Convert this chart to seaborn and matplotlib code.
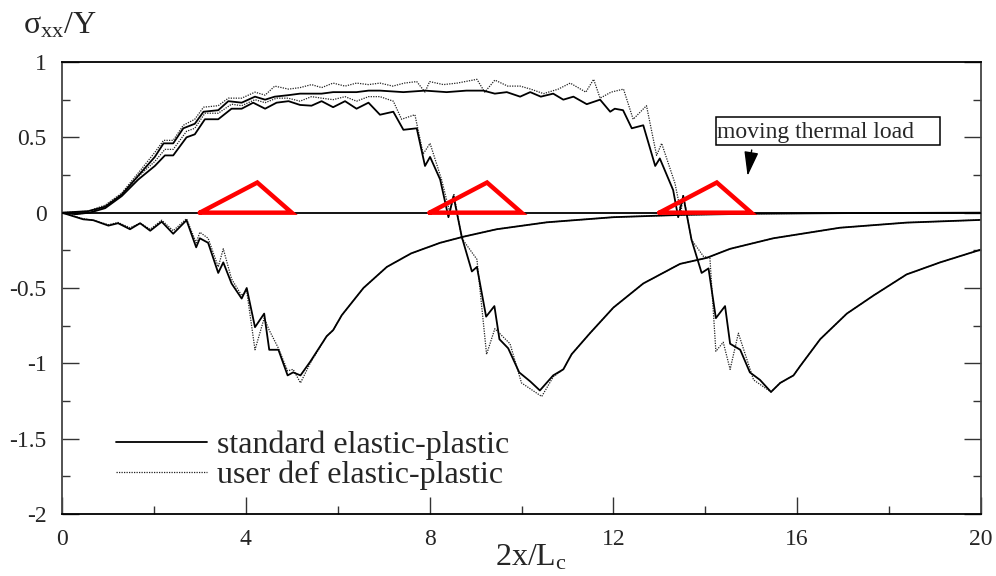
import numpy as np
import pandas as pd
import matplotlib
matplotlib.use("Agg")
import matplotlib.pyplot as plt
from matplotlib.patches import Rectangle
from matplotlib.lines import Line2D
from matplotlib.ticker import MultipleLocator
import seaborn as sns

# ---------------- data ----------------
# snapshot A: load around x = 3..5
a_std_x = [0, 0.46, 0.68, 1.01, 1.22, 1.48, 1.70, 1.92, 2.17, 2.42, 2.71, 2.92, 3.0, 3.18, 3.40, 3.51,
           3.69, 3.91, 4.02, 4.20, 4.40, 4.51, 4.71, 4.91, 5.03, 5.19, 5.40, 5.76, 5.90, 6.09, 6.56,
           7.07, 7.6, 8.23, 8.73, 9.46, 10.55, 12.0, 13.45, 15.0, 17.0, 20.0]
a_std_y = [0, -0.044, -0.05, -0.086, -0.07, -0.11, -0.07, -0.12, -0.06, -0.14, -0.05, -0.23, -0.17, -0.20,
           -0.40, -0.33, -0.47, -0.57, -0.50, -0.76, -0.67, -0.91, -0.91, -1.08, -1.06, -1.08, -0.99,
           -0.82, -0.78, -0.68, -0.50, -0.36, -0.27, -0.20, -0.16, -0.11, -0.064, -0.03, -0.015,
           -0.007, -0.003, 0.0]
a_usr_x = a_std_x
a_usr_y = [0, -0.04, -0.05, -0.08, -0.065, -0.10, -0.07, -0.11, -0.05, -0.12, -0.04, -0.20, -0.13, -0.17,
           -0.36, -0.24, -0.44, -0.55, -0.52, -0.91, -0.70, -0.78, -0.90, -1.05, -1.04, -1.13, -1.00,
           -0.82, -0.78, -0.68, -0.50, -0.36, -0.27, -0.20, -0.16, -0.11, -0.064, -0.03, -0.015,
           -0.007, -0.003, 0.0]

# snapshot B: load around x = 8..10
b_std_x = [0, 0.3, 0.6, 0.94, 1.3, 1.66, 2.02, 2.24, 2.42, 2.71, 2.89, 3.11, 3.40, 3.69, 3.91, 4.16,
           4.42, 4.67, 4.93, 5.18, 5.43, 5.65, 5.90, 6.16, 6.41, 6.67, 6.92, 7.21, 7.43, 7.72, 7.90,
           8.01, 8.23, 8.41, 8.52, 8.70, 8.92, 9.03, 9.23, 9.41, 9.52, 9.71, 9.95, 10.19, 10.40,
           10.69, 10.91, 11.09, 11.49, 12.0, 12.65, 13.45, 14.03, 14.54, 15.48, 16.93, 18.38, 20.0]
b_std_y = [0, -0.01, 0.0, 0.03, 0.11, 0.22, 0.31, 0.38, 0.38, 0.50, 0.52, 0.62, 0.62, 0.69, 0.69, 0.73,
           0.69, 0.73, 0.74, 0.715, 0.71, 0.74, 0.70, 0.74, 0.69, 0.73, 0.65, 0.67, 0.55, 0.56, 0.31,
           0.37, 0.22, -0.03, 0.11, -0.16, -0.39, -0.36, -0.69, -0.62, -0.84, -0.90, -1.06, -1.12,
           -1.18, -1.08, -1.04, -0.94, -0.80, -0.63, -0.47, -0.34, -0.30, -0.24, -0.17, -0.10,
           -0.066, -0.048]
b_usr_x = [0, 0.3, 0.6, 0.94, 1.3, 1.66, 2.02, 2.24, 2.42, 2.71, 2.89, 3.11, 3.40, 3.69, 3.91, 4.20,
           4.42, 4.67, 4.92, 5.18, 5.43, 5.65, 5.90, 6.16, 6.41, 6.67, 6.92, 7.21, 7.39, 7.68, 7.86,
           8.01, 8.26, 8.44, 8.53, 8.70, 9.03, 9.24, 9.42, 9.75, 10.0, 10.44, 10.69, 10.91, 11.09,
           11.49, 12.0, 12.65, 13.45, 14.03, 14.54, 15.48, 16.93, 18.38, 20.0]
b_usr_y = [0, -0.01, 0.0, 0.04, 0.12, 0.24, 0.34, 0.42, 0.42, 0.54, 0.56, 0.66, 0.66, 0.72, 0.71, 0.75,
           0.73, 0.76, 0.76, 0.74, 0.77, 0.76, 0.75, 0.77, 0.74, 0.77, 0.77, 0.74, 0.62, 0.65, 0.39,
           0.46, 0.22, 0.0, 0.12, -0.17, -0.31, -0.94, -0.77, -0.87, -1.13, -1.22, -1.09, -1.04,
           -0.94, -0.80, -0.63, -0.47, -0.34, -0.30, -0.24, -0.17, -0.10, -0.066, -0.048]

# snapshot C: load around x = 13..15
c_std_x = [0, 0.57, 0.94, 1.30, 1.73, 2.02, 2.21, 2.42, 2.64, 2.89, 3.08, 3.40, 3.62, 3.91, 4.20, 4.42,
           4.63, 4.93, 5.18, 5.43, 5.65, 5.90, 6.16, 6.41, 6.67, 6.92, 7.43, 7.9, 8.37, 8.8, 9.17,
           9.42, 9.68, 9.97, 10.19, 10.42, 10.69, 10.91, 11.13, 11.42, 11.71, 11.93, 12.03, 12.21,
           12.4, 12.65, 12.91, 13.01, 13.30, 13.41, 13.52, 13.70, 13.92, 14.07, 14.23, 14.43, 14.54,
           14.76, 14.97, 15.19, 15.43, 15.63, 15.92, 16.06, 16.50, 17.08, 17.66, 18.38, 19.11, 20.0]
c_std_y = [0, 0.01, 0.04, 0.12, 0.27, 0.37, 0.46, 0.46, 0.56, 0.59, 0.67, 0.68, 0.74, 0.73, 0.77, 0.75,
           0.77, 0.78, 0.79, 0.79, 0.79, 0.80, 0.80, 0.80, 0.81, 0.81, 0.80, 0.81, 0.80, 0.81, 0.81,
           0.79, 0.80, 0.77, 0.80, 0.77, 0.79, 0.75, 0.77, 0.72, 0.75, 0.67, 0.69, 0.68,
           0.56, 0.58, 0.31, 0.36, 0.15, -0.03, 0.11, -0.18, -0.40, -0.37, -0.70, -0.62, -0.87,
           -0.91, -1.06, -1.11, -1.19, -1.13, -1.08, -1.02, -0.84, -0.67, -0.55, -0.41, -0.33, -0.245]
c_usr_x = [0, 0.57, 0.94, 1.30, 1.73, 2.02, 2.21, 2.42, 2.64, 2.89, 3.08, 3.40, 3.62, 3.91, 4.20, 4.42,
           4.63, 4.93, 5.18, 5.43, 5.65, 5.90, 6.16, 6.41, 6.67, 6.92, 7.2, 7.45, 7.72, 7.9, 8.0,
           8.3, 8.6, 9.03, 9.2, 9.42, 9.7, 9.97, 10.2, 10.48, 10.8, 11.06, 11.4, 11.57, 11.71, 11.95,
           12.22, 12.43, 12.72, 12.94, 13.05, 13.34, 13.47, 13.52, 13.70, 13.96, 14.1, 14.23, 14.39,
           14.54, 14.72, 15.05, 15.43, 15.63, 15.92, 16.06, 16.50, 17.08, 17.66, 18.38, 19.11, 20.0]
c_usr_y = [0, 0.01, 0.05, 0.13, 0.29, 0.40, 0.48, 0.48, 0.58, 0.62, 0.70, 0.71, 0.76, 0.76, 0.80, 0.78,
           0.84, 0.82, 0.83, 0.85, 0.83, 0.86, 0.84, 0.86, 0.85, 0.86, 0.84, 0.86, 0.87, 0.80, 0.87,
           0.85, 0.86, 0.885, 0.80, 0.88, 0.84, 0.84, 0.82, 0.79, 0.82, 0.86, 0.80, 0.885, 0.76, 0.80,
           0.82, 0.62, 0.71, 0.38, 0.46, 0.195, 0.0, 0.12, -0.18, -0.29, -0.30, -0.92, -0.86,
           -1.04, -0.80, -1.11, -1.19, -1.13, -1.08, -1.02, -0.84, -0.67, -0.55, -0.41, -0.33, -0.245]

# moving thermal load (red triangles): start, apex, end of each load
load_x = [[3.0, 4.25, 5.0], [8.0, 9.25, 10.0], [13.0, 14.25, 15.0]]
load_y = [0.0, 0.2, 0.0]

legend_labels = ["standard elastic-plastic", "user def elastic-plastic"]
x_ticks = [0, 4, 8, 12, 16, 20]
y_ticks = [-2, -1.5, -1, -0.5, 0, 0.5, 1]
y_ticklabels = ["-2", "-1.5", "-1", "-0.5", "0", "0.5", "1"]

# ---------------- style ----------------
sns.set_style("white")
plt.rcParams["font.family"] = ["Liberation Serif", "DejaVu Serif"]
plt.rcParams["mathtext.fontset"] = "custom"
plt.rcParams["mathtext.rm"] = "Liberation Serif"
plt.rcParams["mathtext.it"] = "Liberation Serif:italic"

fig = plt.figure(figsize=(9.96, 5.76), dpi=100)
ax = fig.add_axes([62 / 996, 1 - 514 / 576, (981 - 62) / 996, (514 - 62) / 576])

frames = []
for name, xs, ys, model in [("A", a_std_x, a_std_y, "std"), ("A", a_usr_x, a_usr_y, "usr"),
                            ("B", b_std_x, b_std_y, "std"), ("B", b_usr_x, b_usr_y, "usr"),
                            ("C", c_std_x, c_std_y, "std"), ("C", c_usr_x, c_usr_y, "usr")]:
    frames.append(pd.DataFrame({"x": xs, "y": ys, "snap": name, "model": model}))
df = pd.concat(frames, ignore_index=True)

std = df[df.model == "std"]
usr = df[df.model == "usr"]
sns.lineplot(data=usr, x="x", y="y", units="snap", estimator=None, sort=False, ax=ax,
             color="#222222", lw=0.9, linestyle=(0, (1, 1)), legend=False)
sns.lineplot(data=std, x="x", y="y", units="snap", estimator=None, sort=False, ax=ax,
             color="black", lw=1.3, legend=False)

ax.axhline(0, color="black", lw=1.3, zorder=3)

for lx in load_x:
    ax.plot(lx + [lx[0]], load_y + [load_y[0]], color="#ff0000", lw=3.2,
            solid_joinstyle="miter", zorder=4)

# legend
handles = [Line2D([], [], color="black", lw=1.3),
           Line2D([], [], color="#222222", lw=0.9, linestyle=(0, (1, 1)))]
leg = fig.legend(handles, legend_labels, loc="upper left",
                 bbox_to_anchor=(116 / 996, 1 - 431 / 576), bbox_transform=fig.transFigure,
                 frameon=False, fontsize=23, handlelength=2.85, handletextpad=0.3,
                 labelspacing=0.0, borderpad=0, borderaxespad=0)

# moving thermal load annotation
ax.add_patch(Rectangle((14.23, 0.449), 4.87, 0.188, fill=False, ec="black", lw=1.1, zorder=5))
ax.text(14.25, 0.494, "moving thermal load", fontsize=17, ha="left", va="baseline", zorder=6)
ax.annotate("", xy=(14.92, 0.244), xytext=(15.01, 0.416),
            arrowprops=dict(arrowstyle="-|>,head_length=0.75,head_width=0.22", mutation_scale=20,
                            color="black", lw=1.0, shrinkA=0, shrinkB=0))

# axes
ax.set_xlim(0, 20)
ax.set_ylim(-2, 1)
ax.set_xticks(x_ticks)
ax.set_xticklabels([str(t) for t in x_ticks])
ax.set_yticks(y_ticks)
ax.set_yticklabels(y_ticklabels)
ax.xaxis.set_minor_locator(MultipleLocator(2))
ax.yaxis.set_minor_locator(MultipleLocator(0.25))
ax.tick_params(axis="both", which="major", direction="in", length=12, width=1, labelsize=17,
               color="#333333")
ax.tick_params(axis="both", which="minor", direction="in", length=6, width=1, color="#333333")
ax.tick_params(axis="y", which="both", left=True, right=True)
ax.tick_params(axis="x", which="both", bottom=True, top=False, pad=11)
ax.tick_params(axis="y", which="major", pad=11)
for side in ["top", "bottom"]:
    ax.spines[side].set_color("black")
    ax.spines[side].set_linewidth(1.3)
for side in ["left", "right"]:
    ax.spines[side].set_color("#444444")
    ax.spines[side].set_linewidth(1.3)

ax.set_xlabel("2x/L$_{\\mathrm{c}}$", fontsize=23)
ax.xaxis.label.set_va("baseline")
ax.xaxis.set_label_coords(0.51, -(566 - 514) / 452)
ax.set_ylabel("")
fig.text(23 / 996, 1 - 33 / 576, "σ$_{\\mathrm{xx}}$/Y", fontsize=23, ha="left", va="baseline")

fig.savefig("out.png", dpi=100)
